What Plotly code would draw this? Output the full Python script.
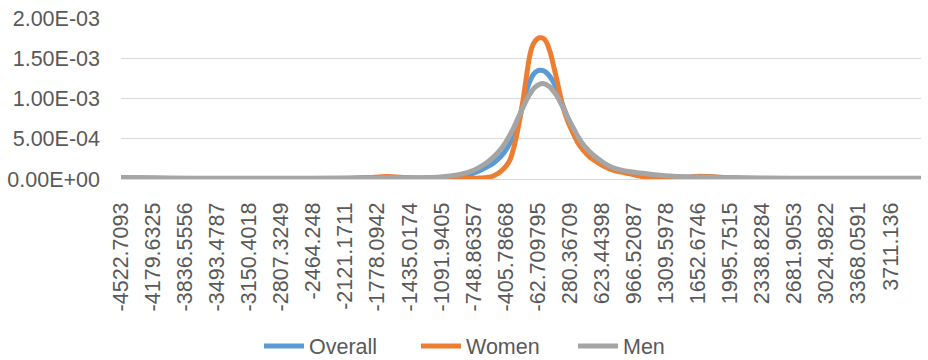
import plotly.graph_objects as go

# Sample positions along the value axis
x_vals = [-4522.7093, -4000, -3400, -2800, -2200, -1900, -1676, -1450, -1250, -1109,
          -1000, -895, -800, -756, -681, -606, -535, -467, -410, -360,
          -320, -285, -250, -221, -185, -146, -110, -71, -40, -7,
          30, 68, 105, 143, 175, 207, 260, 314, 365, 421,
          490, 571, 650, 742, 830, 924, 1031, 1140, 1245, 1350,
          1500, 1673, 1850, 2050, 2400, 2900, 3400, 4037.05]

overall = [1.5e-5, 9e-6, 7e-6, 7e-6, 8e-6, 1.4e-5, 2.0e-5, 1.4e-5, 1.2e-5, 1.5e-5,
           2.2e-5, 3.5e-5, 5.5e-5, 7.0e-5, 1.05e-4, 1.5e-4, 2.0e-4, 2.7e-4, 3.5e-4, 4.5e-4,
           5.5e-4, 6.7e-4, 8.0e-4, 9.3e-4, 1.09e-3, 1.22e-3, 1.30e-3, 1.34e-3, 1.35e-3, 1.345e-3,
           1.32e-3, 1.27e-3, 1.20e-3, 1.10e-3, 1.00e-3, 9.1e-4, 7.5e-4, 6.1e-4, 4.9e-4, 4.0e-4,
           3.1e-4, 2.4e-4, 1.75e-4, 1.25e-4, 9.5e-5, 7.8e-5, 6.0e-5, 4.3e-5, 3.2e-5, 2.6e-5,
           2.4e-5, 2.8e-5, 2.2e-5, 1.4e-5, 9e-6, 7e-6, 7e-6, 7e-6]

women = [1.2e-5, 6e-6, 4e-6, 4e-6, 6e-6, 1.5e-5, 3.2e-5, 1.2e-5, 4e-6, 3e-6,
         3e-6, 4e-6, 6e-6, 8e-6, 1.1e-5, 1.8e-5, 4.0e-5, 8.7e-5, 1.5e-4, 2.4e-4,
         3.9e-4, 5.7e-4, 7.8e-4, 9.8e-4, 1.27e-3, 1.55e-3, 1.68e-3, 1.74e-3, 1.755e-3, 1.75e-3,
         1.70e-3, 1.58e-3, 1.41e-3, 1.22e-3, 1.05e-3, 8.9e-4, 7.1e-4, 5.7e-4, 4.5e-4, 3.6e-4,
         2.75e-4, 2.1e-4, 1.55e-4, 1.1e-4, 8.5e-5, 6.5e-5, 3.5e-5, 1.0e-5, 2e-6, 3e-6,
         1.5e-5, 3.5e-5, 2.5e-5, 1.0e-5, 5e-6, 4e-6, 4e-6, 4e-6]

men = [1.6e-5, 1.0e-5, 8e-6, 8e-6, 9e-6, 1.2e-5, 1.5e-5, 1.5e-5, 1.8e-5, 2.5e-5,
       3.7e-5, 5.7e-5, 8.5e-5, 1.05e-4, 1.5e-4, 2.05e-4, 2.75e-4, 3.6e-4, 4.5e-4, 5.5e-4,
       6.4e-4, 7.3e-4, 8.2e-4, 8.9e-4, 9.8e-4, 1.06e-3, 1.12e-3, 1.16e-3, 1.18e-3, 1.185e-3,
       1.17e-3, 1.14e-3, 1.09e-3, 1.03e-3, 9.6e-4, 8.9e-4, 7.6e-4, 6.4e-4, 5.3e-4, 4.3e-4,
       3.4e-4, 2.6e-4, 1.95e-4, 1.4e-4, 1.1e-4, 9.0e-5, 7.5e-5, 6.0e-5, 4.8e-5, 3.8e-5,
       2.8e-5, 2.4e-5, 1.8e-5, 1.3e-5, 1.0e-5, 9e-6, 9e-6, 1.0e-5]

x_tick_labels = ["-4522.7093", "-4179.6325", "-3836.5556", "-3493.4787", "-3150.4018",
                 "-2807.3249", "-2464.248", "-2121.1711", "-1778.0942", "-1435.0174",
                 "-1091.9405", "-748.86357", "-405.78668", "-62.709795", "280.36709",
                 "623.44398", "966.52087", "1309.5978", "1652.6746", "1995.7515",
                 "2338.8284", "2681.9053", "3024.9822", "3368.0591", "3711.136"]

y_tick_vals = [0, 5e-4, 1e-3, 1.5e-3, 2e-3]
y_tick_labels = ["0.00E+00", "5.00E-04", "1.00E-03", "1.50E-03", "2.00E-03"]

series = [("Overall", overall, "#5B9BD5"),
          ("Women", women, "#ED7D31"),
          ("Men", men, "#A5A5A5")]

FONT = "Liberation Sans"
TXT = "#595959"
FS = 21.5

W, H = 928, 360

fig = go.Figure()
for name, vals, color in series:
    fig.add_trace(go.Scatter(
        x=x_vals, y=vals, name=name, mode="lines",
        line=dict(color=color, width=5, shape="spline", smoothing=0.8),
    ))

fig.update_layout(
    width=W, height=H,
    margin=dict(l=121, r=7, t=18, b=181),
    paper_bgcolor="white", plot_bgcolor="white",
    font=dict(family=FONT, color=TXT, size=FS),
    showlegend=True,
    legend=dict(orientation="h", x=259 / W, xref="container", xanchor="left",
                y=(H - 346) / H, yref="container", yanchor="middle",
                font=dict(family=FONT, color=TXT, size=FS),
                itemwidth=40, tracegroupgap=0, entrywidth=102),
)

fig.update_xaxes(
    type="linear", range=[-4522.7093, 4037.05],
    tickmode="array", tickvals=[float(v) for v in x_tick_labels], ticktext=x_tick_labels,
    tickangle=-90, tickfont=dict(family=FONT, color=TXT, size=FS),
    showgrid=False, zeroline=False, automargin=False,
    showline=True, linecolor="#D9D9D9", linewidth=1,
    ticks="", ticklabelstandoff=14,
)

fig.update_yaxes(
    range=[0, 2e-3], tickmode="array", tickvals=y_tick_vals, ticktext=y_tick_labels,
    tickfont=dict(family=FONT, color=TXT, size=FS),
    showgrid=True, gridcolor="#D9D9D9", gridwidth=1.3, automargin=False,
    zeroline=False, showline=False, ticks="", ticklabelstandoff=20,
)

fig.write_html("out.html")
